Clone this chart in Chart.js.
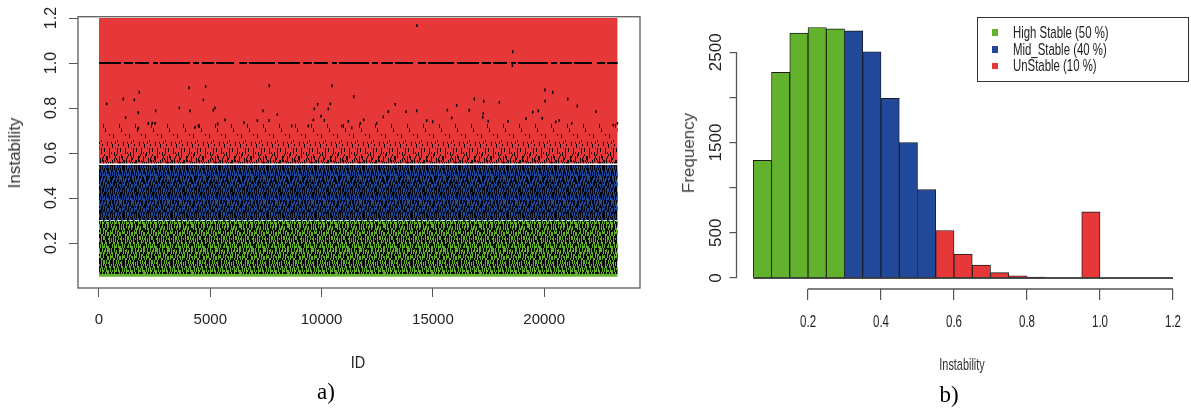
<!DOCTYPE html>
<html><head><meta charset="utf-8">
<script src="https://cdn.jsdelivr.net/npm/chart.js@4.4.1/dist/chart.umd.min.js"></script>
<style>
html,body{margin:0;padding:0;background:#fff;}
#wrap{position:relative;width:1191px;height:411px;overflow:hidden;background:#fff;}
canvas{position:absolute;left:0;top:0;}
.t{position:absolute;white-space:nowrap;line-height:1;}
</style></head><body>
<div id="wrap">
<canvas id="ca" width="1191" height="411"></canvas>
<canvas id="cb" width="1191" height="411"></canvas>
</div>
<script>
// ---------- DATA : panel a (Instability vs ID) ----------
const idRange = [0, 23300];
const classBounds = [0.05, 0.30, 0.55, 1.20];      // High Stable | Mid_Stable | UnStable
const unstableLevel = 1.0;                          // many records sit exactly at 1.0
const outlierIds = [346,1093,1587,1811,1767,2546,1198,2216,2396,2516,1770,3608,4043,4088,4687,4792,5135,5211,4462,4313,5660,5331,6514,7113,7367,7652,7637,8011,8656,9404,9629,9674,9824,9973,10123,10303,10393,10467,11200,11441,11891,11352,10903,20036,20382,21056,16860,17282,17983,13311,20040,16069,15647,16636,17265,17237,14272,13791,12997,12772,12475,11739,15845,14721,14991,17489,18374,19182,19735,19483,19915,20517,20679,21235,21487,22327,23105,23290,14280,18585,18570];
const outlierVals = [0.818,0.84,0.836,0.87,0.779,0.787,0.757,0.732,0.733,0.732,0.71,0.801,0.89,0.787,0.836,0.895,0.791,0.801,0.721,0.714,0.747,0.729,0.735,0.744,0.787,0.899,0.744,0.772,0.72,0.72,0.747,0.796,0.816,0.764,0.745,0.796,0.818,0.899,0.741,0.85,0.747,0.712,0.721,0.88,0.87,0.84,0.84,0.83,0.825,0.816,0.831,0.812,0.791,0.79,0.776,0.759,0.787,0.784,0.784,0.761,0.732,0.732,0.756,0.744,0.739,0.742,0.741,0.753,0.787,0.782,0.754,0.738,0.745,0.732,0.809,0.784,0.724,0.732,1.166,1.05,0.988];
const idTicks = [0, 5000, 10000, 15000, 20000];
const instTicks = [0.2, 0.4, 0.6, 0.8, 1.0, 1.2];

// ---------- DATA : panel b (histogram) ----------
const binStarts = [0.05,0.10,0.15,0.20,0.25,0.30,0.35,0.40,0.45,0.50,0.55,0.60,0.65,0.70,0.75,0.80,0.85,0.90,0.95,1.00,1.05,1.10,1.15];
const binWidth = 0.05;
const binCounts = [1302,2277,2712,2774,2759,2737,2506,1990,1501,979,526,265,143,59,24,10,0,0,732,0,0,0,0];
const histXTicks = [0.2, 0.4, 0.6, 0.8, 1.0, 1.2];
const freqTicks = [0, 500, 1000, 1500, 2000, 2500];
const freqLabels = [0, 500, 1500, 2500];
const legendLabels = ['High Stable (50 %)', 'Mid_Stable (40 %)', 'UnStable (10 %)'];

// ---------- STYLE ----------
const classColors = ['#63b22e', '#22489a', '#e63838'];
const SANS = "'Liberation Sans', Arial, sans-serif";

// stipple tiles imitating the over-plotted point cloud (column strings, '#' = ink)
const TILE_DENSE = ["###...##..#.","..##...###..","#...###...##",".###...#.##.","##..##...###","..###..##...","#.....###.##",".##.##...#..","##..#..###..","..##..#...##","#...###.##..",".##....#..##"];
const TILE_MED = ["##.......##.","....###.....",".#.......##.","...##......#","#.......###.","..###.......",".......##..#","##....#.....","....##....##","#.......#...","..##.....##.","......###..."];
const TILE_LIGHT = ["........##......","..###...........","............##..","......##........","...............#","..##......###...","........#.......","##..............","..........##....","....###.........","..............##","#......##.......","....#...........","..........###...",".##.............","......##....#..."];
const TILE_VLIGHT = ["................","...##...........","................","..........###...","................","......#.........","................","..............##","................","##..............","................",".......##.......","................","...#............","................","...........##..."];

const ctxA = document.getElementById('ca').getContext('2d');
function makeTile(cols, color, cellH) {
  const c = document.createElement('canvas');
  c.width = cols.length; c.height = cols[0].length * cellH;
  const g = c.getContext('2d'); g.fillStyle = color;
  cols.forEach((s, x) => { for (let y = 0; y < s.length; y++) if (s[y] === '#') g.fillRect(x, y * cellH, 1, cellH); });
  return ctxA.createPattern(c, 'repeat');
}
const INK = 'rgba(0,0,0,0.92)';
const textureLayers = [
  {lo: 0.062, hi: 0.30, tex: makeTile(TILE_DENSE, INK, 2)},
  {lo: 0.062, hi: 0.30, tex: makeTile(TILE_LIGHT, INK, 3)},
  {lo: 0.30, hi: 0.55, tex: makeTile(TILE_DENSE, INK, 2)},
  {lo: 0.30, hi: 0.55, tex: makeTile(TILE_VLIGHT, INK, 3)},
  {lo: 0.55, hi: 0.595, tex: makeTile(TILE_MED, INK, 2)},
  {lo: 0.55, hi: 0.65, tex: makeTile(TILE_LIGHT, INK, 2)},
  {lo: 0.62, hi: 0.73, tex: makeTile(TILE_VLIGHT, INK, 2)}
];

const hSeg = (y) => idRange.map(x => ({x, y}));
const datasetsA = [];
classColors.forEach((col, i) => datasetsA.push({
  data: hSeg(classBounds[i + 1]), fill: {value: classBounds[i]}, backgroundColor: col,
  borderColor: 'rgba(0,0,0,0)', borderWidth: 0, pointRadius: 0, showLine: true, order: 100 - i
}));
textureLayers.forEach((L, i) => datasetsA.push({
  data: hSeg(L.hi), fill: {value: L.lo}, backgroundColor: L.tex,
  borderColor: 'rgba(0,0,0,0)', borderWidth: 0, pointRadius: 0, showLine: true, order: 90 - i
}));
datasetsA.push({data: hSeg(classBounds[1]), borderColor: 'rgba(225,225,225,0.95)', borderWidth: 1.2,
  borderDash: [4, 2], pointRadius: 0, showLine: true, fill: false, order: 50});
datasetsA.push({data: hSeg(classBounds[2]), borderColor: '#ffffff', borderWidth: 1.6,
  pointRadius: 0, showLine: true, fill: false, order: 49});
datasetsA.push({data: hSeg(unstableLevel), borderColor: '#000', borderWidth: 2.2,
  borderDash: [22,3,9,2,14,4,5,2,30,3,6,3,12,2,18,5,8,2,26,3],
  pointRadius: 0, showLine: true, fill: false, order: 40});
datasetsA.push({data: outlierIds.map((x, i) => ({x, y: outlierVals[i]})),
  pointStyle: 'line', rotation: 90, pointRadius: 1.4, borderWidth: 1.5, borderColor: '#000',
  backgroundColor: '#000', showLine: false, order: 30});

const boxPlugin = {id: 'rbox', afterDraw(chart) {
  const {ctx, chartArea: a} = chart; ctx.save(); ctx.strokeStyle = '#666'; ctx.lineWidth = 1.4;
  ctx.strokeRect(a.left, a.top, a.right - a.left, a.bottom - a.top); ctx.restore(); }};

new Chart(ctxA, {
  type: 'scatter',
  data: {datasets: datasetsA},
  options: {
    responsive: false, animation: false, devicePixelRatio: 1,
    layout: {padding: {left: 0, top: 16.7, right: 551, bottom: 0}},
    plugins: {legend: {display: false}, tooltip: {enabled: false}},
    scales: {
      x: {type: 'linear', min: -943, max: 24304,
        afterFit: s => { s.height = 123; },
        afterBuildTicks: s => { s.ticks = idTicks.map(v => ({value: v})); },
        border: {display: false},
        grid: {drawOnChartArea: false, drawTicks: true, tickLength: 9, color: '#555', lineWidth: 1},
        ticks: {autoSkip: false, maxRotation: 0, padding: 14, color: '#222', font: {family: SANS, size: 15}, callback: v => String(v)}},
      y: {type: 'linear', min: 0, max: 1.2058,
        afterFit: s => { s.width = 78; },
        afterBuildTicks: s => { s.ticks = instTicks.map(v => ({value: v})); },
        border: {display: false},
        grid: {drawOnChartArea: false, drawTicks: true, tickLength: 9, color: '#555', lineWidth: 1},
        ticks: {autoSkip: false, minRotation: 90, maxRotation: 90, crossAlign: 'center', padding: 6,
          color: '#222', font: {family: SANS, size: 16}, callback: v => v.toFixed(1)}}
    }
  },
  plugins: [boxPlugin]
});

// ---------- panel b ----------
const binColor = s => s < classBounds[1] - 1e-9 ? classColors[0] : (s < classBounds[2] - 1e-9 ? classColors[1] : classColors[2]);
const axesPlugin = {id: 'raxes', afterDraw(chart) {
  const {ctx, chartArea: a, scales: {x, y}} = chart; ctx.save(); ctx.strokeStyle = '#555'; ctx.lineWidth = 1.3;
  ctx.beginPath();
  ctx.moveTo(x.getPixelForValue(histXTicks[0]), a.bottom); ctx.lineTo(x.getPixelForValue(histXTicks[histXTicks.length - 1]), a.bottom);
  ctx.moveTo(a.left, y.getPixelForValue(freqTicks[0])); ctx.lineTo(a.left, y.getPixelForValue(freqTicks[freqTicks.length - 1]));
  ctx.stroke();
  // condensed x tick labels placed by the x scale
  ctx.font = '16px ' + SANS; ctx.fillStyle = '#222'; ctx.textAlign = 'center'; ctx.textBaseline = 'middle';
  x.ticks.forEach(t => {
    ctx.save(); ctx.translate(x.getPixelForValue(t.value), a.bottom + 33.5); ctx.scale(0.72, 1);
    ctx.fillText(t.value.toFixed(1), 0, 0); ctx.restore();
  });
  ctx.restore(); }};

new Chart(document.getElementById('cb').getContext('2d'), {
  data: {datasets: [
    {type: 'line', data: [{x: binStarts[0], y: 0}, {x: binStarts[binStarts.length - 1] + binWidth, y: 0}],
      borderColor: '#111', borderWidth: 1.3, pointRadius: 0, fill: false, order: 0},
    {type: 'bar', data: binStarts.map((s, i) => ({x: s + binWidth / 2, y: binCounts[i]})),
      backgroundColor: binStarts.map(binColor), borderColor: '#1a1a1a', borderWidth: 0.9,
      barPercentage: 1, categoryPercentage: 1, order: 1}
  ]},
  options: {
    responsive: false, animation: false, devicePixelRatio: 1,
    layout: {padding: {left: 676.5, top: 16.6, right: 0.6, bottom: 0}},
    plugins: {legend: {display: false}, tooltip: {enabled: false}},
    scales: {
      x: {type: 'linear', min: 0.004, max: 1.2477, offset: false,
        afterFit: s => { s.height = 122; },
        afterBuildTicks: s => { s.ticks = histXTicks.map(v => ({value: v})); },
        border: {display: false},
        grid: {offset: false, drawOnChartArea: false, drawTicks: true, tickLength: 11, color: '#555', lineWidth: 1.2},
        ticks: {display: false}},
      y: {type: 'linear', min: -122, max: 2895, beginAtZero: false,
        afterFit: s => { s.width = 60; },
        afterBuildTicks: s => { s.ticks = freqTicks.map(v => ({value: v})); },
        border: {display: false},
        grid: {drawOnChartArea: false, drawTicks: true, tickLength: 7, color: '#555', lineWidth: 1.2},
        ticks: {autoSkip: false, minRotation: 90, maxRotation: 90, crossAlign: 'center', padding: -6,
          color: '#222', font: {family: SANS, size: 17}, callback: v => freqLabels.includes(v) ? String(v) : ''}}
    }
  },
  plugins: [axesPlugin]
});

// ---------- real-text titles and legend ----------
const wrap = document.getElementById('wrap');
function label(text, x, y, font, color, extra) {
  const d = document.createElement('div'); d.className = 't'; d.textContent = text;
  d.style.left = x + 'px'; d.style.top = y + 'px'; d.style.font = font; d.style.color = color;
  d.style.transform = 'translate(-50%,-50%)' + (extra || '');
  wrap.appendChild(d); return d;
}
label('Instability', 15, 153, "17px " + SANS, '#333', ' rotate(-90deg)');
label('ID', 358, 363, "17px " + SANS, '#222', ' scaleX(0.85)');
label('a)', 326, 392, "23px 'Liberation Serif', serif", '#000');
label('Frequency', 689, 153, "17px " + SANS, '#444', ' rotate(-90deg)');
label('Instability', 962, 365, "17px " + SANS, '#333', ' scaleX(0.64)');
label('b)', 949, 395, "23px 'Liberation Serif', serif", '#000');

const lg = document.createElement('div');
lg.style.cssText = 'position:absolute;left:977px;top:16.7px;width:212px;height:65px;border:1.3px solid #333;box-sizing:border-box;';
wrap.appendChild(lg);
legendLabels.forEach((t, i) => {
  const cy = 33 + i * 16.65;
  const sq = document.createElement('div');
  sq.style.cssText = `position:absolute;left:992.3px;top:${cy - 3.7}px;width:5.5px;height:6.8px;background:${classColors[i]};`;
  wrap.appendChild(sq);
  const tx = label(t, 1013.3, cy, "17px " + SANS, '#222');
  tx.style.transformOrigin = '0 50%';
  tx.style.transform = 'translate(0,-50%) scaleX(0.67)';
});
</script>
</body></html>
